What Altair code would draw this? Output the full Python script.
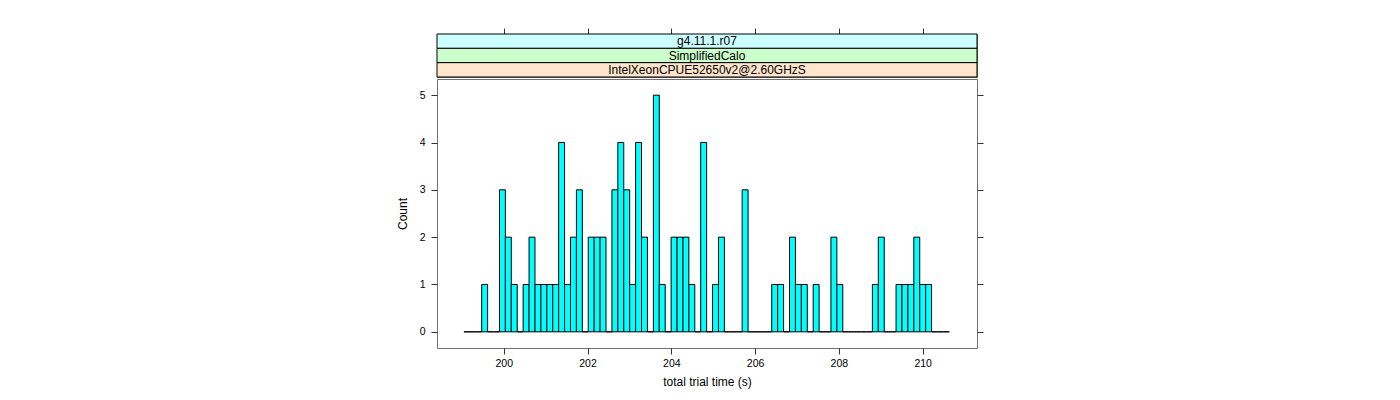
import altair as alt
import pandas as pd

# ---- data ----
counts = [0, 0, 0, 1, 0, 0, 3, 2, 1, 0,
          1, 2, 1, 1, 1, 1, 4, 1, 2, 3,
          0, 2, 2, 2, 0, 3, 4, 3, 1, 4,
          2, 0, 5, 1, 0, 2, 2, 2, 1, 0,
          4, 0, 1, 2, 0, 0, 0, 3, 0, 0,
          0, 0, 1, 1, 0, 2, 1, 1, 0, 1,
          0, 0, 2, 1, 0, 0, 0, 0, 0, 1,
          2, 0, 0, 1, 1, 1, 2, 1, 1, 0,
          0, 0]
first_break = 199.05
bin_width = 0.1413
x_ticks = [200, 202, 204, 206, 208, 210]
y_ticks = [0, 1, 2, 3, 4, 5]
strip_labels = ["g4.11.1.r07", "SimplifiedCalo", "IntelXeonCPUE52650v2@2.60GHzS"]
strip_colors = ["#CCFFFF", "#CCFFCC", "#FFE5CC"]
x_domain = [198.407, 211.297]
y_domain = [-0.342, 5.342]

FONT = "Liberation Sans"
W = 540

x0 = [first_break + i * bin_width for i in range(len(counts))]
x1 = [v + bin_width for v in x0]
df = pd.DataFrame({"x0": x0, "x1": x1, "count": counts, "base": [0] * len(counts)})

x_scale = alt.Scale(domain=x_domain, nice=False, zero=False)
y_scale = alt.Scale(domain=y_domain, nice=False, zero=False)

x_axis = alt.Axis(values=x_ticks, title="total trial time (s)", tickSize=6,
                  labelPadding=4, titlePadding=8, format="d")

bars = alt.Chart(df).mark_rect(fill="#00FFFF", stroke="#000000", strokeWidth=1).encode(
    x=alt.X("x0:Q", scale=x_scale, axis=x_axis),
    x2="x1",
    y=alt.Y("count:Q", scale=y_scale,
            axis=alt.Axis(values=y_ticks, title="Count", tickSize=6, labelPadding=6,
                          titlePadding=10, format="d")),
    y2="base",
)

right = alt.Chart(df).mark_point(opacity=0).encode(
    x=alt.X("x0:Q", scale=x_scale, axis=x_axis),
    y=alt.Y("count:Q", scale=y_scale,
            axis=alt.Axis(orient="right", values=y_ticks, labels=False, title=None, tickSize=6)),
)

main = alt.layer(bars, right).resolve_axis(y="independent").properties(width=W, height=269)

sdf = pd.DataFrame({"label": strip_labels, "color": strip_colors})
tdf = pd.DataFrame({"v": x_ticks})

strip_rect = alt.Chart(sdf).mark_rect(stroke="#000000", strokeWidth=1).encode(
    x=alt.value(0), x2=alt.value(W),
    y=alt.Y("label:N", sort=strip_labels, axis=None,
            scale=alt.Scale(paddingInner=0, paddingOuter=0)),
    color=alt.Color("color:N", scale=None),
)
strip_text = alt.Chart(sdf).mark_text(font=FONT, fontSize=12, color="#000000").encode(
    x=alt.value(W / 2),
    y=alt.Y("label:N", sort=strip_labels, axis=None,
            scale=alt.Scale(paddingInner=0, paddingOuter=0)),
    text="label:N",
)
top_ticks = alt.Chart(tdf).mark_point(opacity=0).encode(
    x=alt.X("v:Q", scale=x_scale,
            axis=alt.Axis(orient="top", values=x_ticks, labels=False, title=None, tickSize=6)),
)
strips = alt.layer(strip_rect, strip_text, top_ticks).properties(width=W, height=43)

chart = alt.vconcat(strips, main, spacing=0).properties(
    padding={"left": 387, "top": 19, "right": 5, "bottom": 5}
).configure_view(stroke="#707070", strokeWidth=1).configure_axis(
    labelFont=FONT, labelFontSize=10.5, labelColor="#000000",
    titleFont=FONT, titleFontSize=12, titleFontWeight="normal", titleColor="#000000",
    tickColor="#333333", tickWidth=1, grid=False, domain=False,
).configure_axisY(labelAngle=0)

chart.save("out.html", embed_options={"renderer": "svg", "actions": False})
